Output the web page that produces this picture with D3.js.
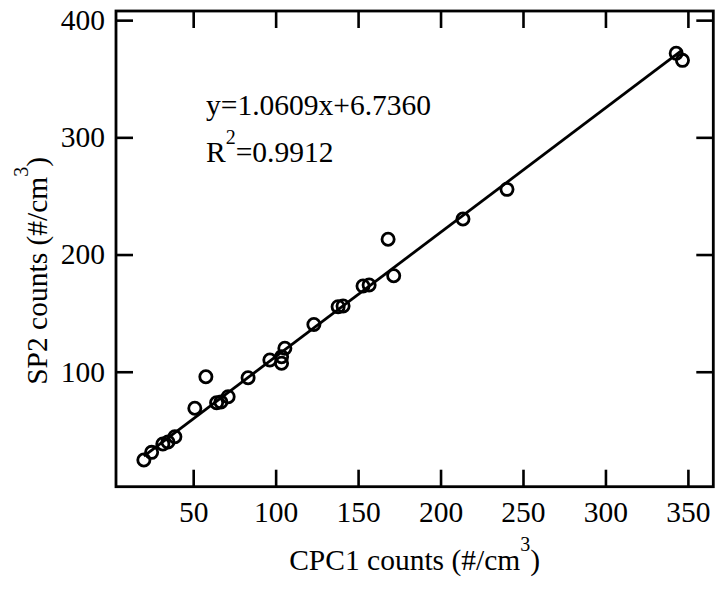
<!DOCTYPE html>
<html><head><meta charset="utf-8">
<script src="https://cdn.jsdelivr.net/npm/d3@7"></script>
<style>body{margin:0;background:#fff}svg{display:block}text{font-family:"Liberation Serif","Times New Roman",serif;fill:#000}</style>
</head><body><svg id="c" width="716" height="589"></svg>
<script>
const cpc1 = [20.1,24.8,31.6,34.7,38.9,51.0,57.7,64.2,66.8,71.2,83.3,96.5,103.6,103.6,105.6,123.2,137.9,140.9,153.0,156.7,168.2,171.6,213.6,240.3,342.9,346.7];
const sp2  = [24.7,31.2,38.3,40.0,44.5,68.8,95.7,73.5,74.2,78.7,94.9,110.0,107.2,112.8,120.0,140.3,155.5,156.1,173.1,174.0,213.0,181.9,230.3,255.6,371.7,365.7];
const xTicks = [50,100,150,200,250,300,350];
const yTicks = [100,200,300,400];
const slope = 1.0609, intercept = 6.7360, r2 = 0.9912;

const svg = d3.select("#c");
const L=116, R=713.3, T=11, B=486.7;
const x = d3.scaleLinear().domain([3.2,365.4]).range([L,R]);
const y = d3.scaleLinear().domain([1.9,407.8]).range([B,T]);
const fs = 29.5, tl = 17;

function styleAxis(g){
  g.select(".domain").remove();
  g.selectAll(".tick line").attr("stroke","#000").attr("stroke-width",2.6);
  g.selectAll(".tick text").attr("font-size",fs).attr("font-family",'"Liberation Serif",serif').attr("fill","#000");
}
svg.append("g").attr("transform",`translate(0,${B})`)
  .call(d3.axisBottom(x).tickValues(xTicks).tickSizeInner(-tl).tickSizeOuter(0).tickPadding(14))
  .call(styleAxis);
svg.append("g").attr("transform",`translate(0,${T})`)
  .call(d3.axisTop(x).tickValues(xTicks).tickSizeInner(-tl).tickSizeOuter(0).tickFormat(""))
  .call(styleAxis);
svg.append("g").attr("transform",`translate(${L},0)`)
  .call(d3.axisLeft(y).tickValues(yTicks).tickSizeInner(-tl).tickSizeOuter(0).tickPadding(11))
  .call(styleAxis);
svg.append("g").attr("transform",`translate(${R},0)`)
  .call(d3.axisRight(y).tickValues(yTicks).tickSizeInner(-tl).tickSizeOuter(0).tickFormat(""))
  .call(styleAxis);

svg.append("rect").attr("x",L).attr("y",T).attr("width",R-L).attr("height",B-T)
  .attr("fill","none").attr("stroke","#000").attr("stroke-width",2.8);

const xmin = d3.min(cpc1), xmax = d3.max(cpc1);
svg.append("line").attr("x1",x(xmin)).attr("y1",y(slope*xmin+intercept))
  .attr("x2",x(xmax)).attr("y2",y(slope*xmax+intercept))
  .attr("stroke","#000").attr("stroke-width",2.8);

svg.append("g").selectAll("circle").data(cpc1).join("circle")
  .attr("cx",d=>x(d)).attr("cy",(d,i)=>y(sp2[i])).attr("r",6.1)
  .attr("fill","none").attr("stroke","#000").attr("stroke-width",2.8);

svg.append("text").attr("x",206).attr("y",115).attr("font-size",fs)
  .text(`y=${slope.toFixed(4)}x+${intercept.toFixed(4)}`);
const t2 = svg.append("text").attr("x",206).attr("y",162).attr("font-size",fs);
t2.append("tspan").text("R");
t2.append("tspan").attr("font-size",20).attr("dy",-18).text("2");
t2.append("tspan").attr("dy",18).text("="+r2.toFixed(4));

const xl = svg.append("text").attr("x",(L+R)/2).attr("y",570).attr("text-anchor","middle").attr("font-size",fs);
xl.append("tspan").text("CPC1 counts (#/cm");
xl.append("tspan").attr("font-size",20).attr("dy",-19).text("3");
xl.append("tspan").attr("dy",19).text(")");

const yl = svg.append("text").attr("transform",`translate(47,${(T+B)/2+22}) rotate(-90)`).attr("text-anchor","middle").attr("font-size",fs);
yl.append("tspan").text("SP2 counts (#/cm");
yl.append("tspan").attr("font-size",20).attr("dy",-19).text("3");
yl.append("tspan").attr("dy",19).text(")");
</script></body></html>
